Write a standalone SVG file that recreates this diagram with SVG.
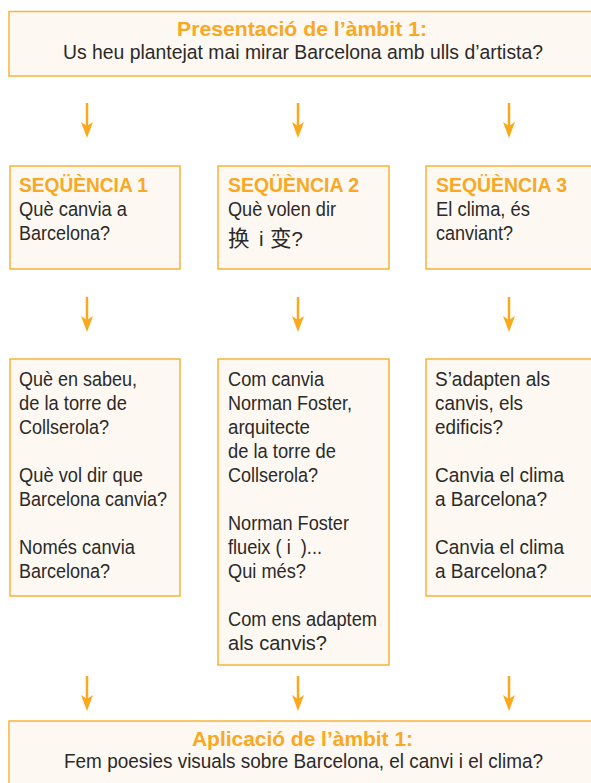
<svg xmlns="http://www.w3.org/2000/svg" width="591" height="783" viewBox="0 0 591 783">
<style>
.box{fill:#fdf8f1;stroke:#f9b23a;stroke-width:1.5}
.t{font-family:"Liberation Sans","Noto Sans CJK SC",sans-serif;font-size:20.5px;fill:#2b2a29}
.h{font-family:"Liberation Sans",sans-serif;font-size:20.5px;font-weight:bold;fill:#f8a824}
.c{text-anchor:middle}
.cjk{font-family:"Noto Sans CJK SC",sans-serif;font-size:21.5px}
.arr{stroke:#f9a91b;stroke-width:2.5;fill:none}
</style>
<defs>
<marker id="ah" markerUnits="userSpaceOnUse" markerWidth="18" markerHeight="14" refX="6" refY="6" orient="auto" overflow="visible">
<path d="M0,0 L16,6 L0,12 L4,6 Z" fill="#f9a91b"/>
</marker>
</defs>

<g id="top">
<rect class="box" x="9" y="11.5" width="587" height="64.5"/>
<text class="h c" x="302" y="36" textLength="250" lengthAdjust="spacingAndGlyphs">Presentació de l’àmbit 1:</text>
<text class="t c" x="303" y="59" textLength="480" lengthAdjust="spacingAndGlyphs">Us heu plantejat mai mirar Barcelona amb ulls d’artista?</text>
</g>

<g id="seq1">
<rect class="box" x="10" y="166" width="170" height="103"/>
<text class="h" x="19" y="191.5" textLength="129" lengthAdjust="spacingAndGlyphs">SEQÜÈNCIA 1</text>
<text class="t" x="19" y="215.5" textLength="108" lengthAdjust="spacingAndGlyphs">Què canvia a</text>
<text class="t" x="19" y="239.5" textLength="91" lengthAdjust="spacingAndGlyphs">Barcelona?</text>
</g>

<g id="seq2">
<rect class="box" x="218" y="166" width="171" height="103"/>
<text class="h" x="228" y="191.5" textLength="131" lengthAdjust="spacingAndGlyphs">SEQÜÈNCIA 2</text>
<text class="t" x="228" y="215.5" textLength="108" lengthAdjust="spacingAndGlyphs">Què volen dir</text>
<text class="t" x="228" y="245.5"><tspan class="cjk">换</tspan> <tspan x="259">i</tspan> <tspan class="cjk" x="270">变</tspan>?</text>
</g>

<g id="seq3">
<rect class="box" x="426" y="166" width="170" height="103"/>
<text class="h" x="436" y="191.5" textLength="131" lengthAdjust="spacingAndGlyphs">SEQÜÈNCIA 3</text>
<text class="t" x="436" y="215.5" textLength="94" lengthAdjust="spacingAndGlyphs">El clima, és</text>
<text class="t" x="436" y="239.5" textLength="77" lengthAdjust="spacingAndGlyphs">canviant?</text>
</g>

<g id="q1">
<rect class="box" x="10" y="359" width="170" height="237"/>
<text class="t" x="19" y="385.5" textLength="118" lengthAdjust="spacingAndGlyphs">Què en sabeu,</text>
<text class="t" x="19" y="409.5" textLength="108" lengthAdjust="spacingAndGlyphs">de la torre de</text>
<text class="t" x="19" y="433.5" textLength="90" lengthAdjust="spacingAndGlyphs">Collserola?</text>
<text class="t" x="19" y="481.5" textLength="124" lengthAdjust="spacingAndGlyphs">Què vol dir que</text>
<text class="t" x="19" y="505.5" textLength="148" lengthAdjust="spacingAndGlyphs">Barcelona canvia?</text>
<text class="t" x="19" y="553.5" textLength="116" lengthAdjust="spacingAndGlyphs">Només canvia</text>
<text class="t" x="19" y="577.5" textLength="91" lengthAdjust="spacingAndGlyphs">Barcelona?</text>
</g>

<g id="q2">
<rect class="box" x="218" y="359" width="171" height="306"/>
<text class="t" x="228" y="385.5" textLength="96" lengthAdjust="spacingAndGlyphs">Com canvia</text>
<text class="t" x="228" y="409.5" textLength="124" lengthAdjust="spacingAndGlyphs">Norman Foster,</text>
<text class="t" x="228" y="433.5" textLength="82" lengthAdjust="spacingAndGlyphs">arquitecte</text>
<text class="t" x="228" y="457.5" textLength="108" lengthAdjust="spacingAndGlyphs">de la torre de</text>
<text class="t" x="228" y="481.5" textLength="90" lengthAdjust="spacingAndGlyphs">Collserola?</text>
<text class="t" x="228" y="529.5" textLength="121" lengthAdjust="spacingAndGlyphs">Norman Foster</text>
<text class="t" x="228" y="553.5" textLength="94" lengthAdjust="spacingAndGlyphs">flueix ( i &#160;)...</text>
<text class="t" x="228" y="577.5" textLength="78" lengthAdjust="spacingAndGlyphs">Qui més?</text>
<text class="t" x="228" y="625.5" textLength="149" lengthAdjust="spacingAndGlyphs">Com ens adaptem</text>
<text class="t" x="228" y="649.5" textLength="99" lengthAdjust="spacingAndGlyphs">als canvis?</text>
</g>

<g id="q3">
<rect class="box" x="426" y="359" width="170" height="237"/>
<text class="t" x="435" y="385.5" textLength="115" lengthAdjust="spacingAndGlyphs">S’adapten als</text>
<text class="t" x="435" y="409.5" textLength="88" lengthAdjust="spacingAndGlyphs">canvis, els</text>
<text class="t" x="435" y="433.5" textLength="68" lengthAdjust="spacingAndGlyphs">edificis?</text>
<text class="t" x="435" y="481.5" textLength="129" lengthAdjust="spacingAndGlyphs">Canvia el clima</text>
<text class="t" x="435" y="505.5" textLength="112" lengthAdjust="spacingAndGlyphs">a Barcelona?</text>
<text class="t" x="435" y="553.5" textLength="129" lengthAdjust="spacingAndGlyphs">Canvia el clima</text>
<text class="t" x="435" y="577.5" textLength="112" lengthAdjust="spacingAndGlyphs">a Barcelona?</text>
</g>

<g id="bottom">
<rect class="box" x="9" y="721" width="587" height="70"/>
<text class="h c" x="302.5" y="746" textLength="221" lengthAdjust="spacingAndGlyphs">Aplicació de l’àmbit 1:</text>
<text class="t c" x="303.5" y="768" textLength="479" lengthAdjust="spacingAndGlyphs">Fem poesies visuals sobre Barcelona, el canvi i el clima?</text>
</g>

<g id="connectors">
<line class="arr" x1="87" y1="103" x2="87" y2="128" marker-end="url(#ah)"/>
<line class="arr" x1="298" y1="103" x2="298" y2="128" marker-end="url(#ah)"/>
<line class="arr" x1="509" y1="103" x2="509" y2="128" marker-end="url(#ah)"/>
<line class="arr" x1="87" y1="297" x2="87" y2="322" marker-end="url(#ah)"/>
<line class="arr" x1="298" y1="297" x2="298" y2="322" marker-end="url(#ah)"/>
<line class="arr" x1="509" y1="297" x2="509" y2="322" marker-end="url(#ah)"/>
<line class="arr" x1="87" y1="676" x2="87" y2="701" marker-end="url(#ah)"/>
<line class="arr" x1="298" y1="676" x2="298" y2="701" marker-end="url(#ah)"/>
<line class="arr" x1="509" y1="676" x2="509" y2="701" marker-end="url(#ah)"/>
</g>
</svg>
